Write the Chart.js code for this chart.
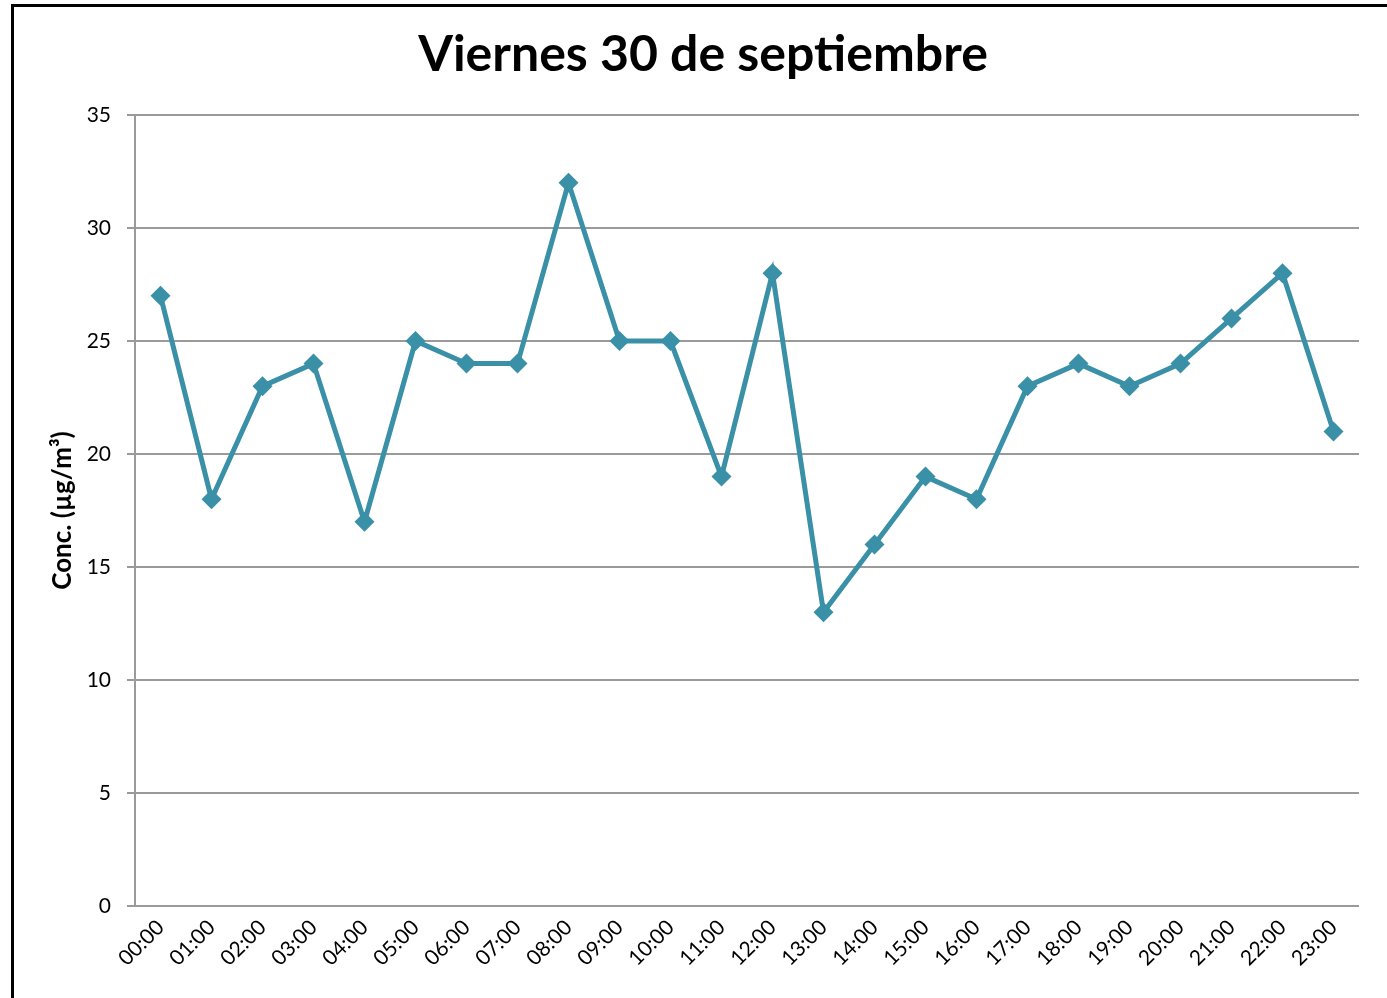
<!DOCTYPE html>
<html>
<head>
<meta charset="utf-8">
<script src="https://cdn.jsdelivr.net/npm/chart.js@4/dist/chart.umd.min.js"></script>
<style>
html,body{margin:0;padding:0;background:#fff;}
#wrap{position:relative;width:1387px;height:998px;}
canvas{display:block;}
</style>
</head>
<body>
<div id="wrap"><canvas id="c" width="1387" height="998"></canvas></div>
<script>
const categories = ["00:00","01:00","02:00","03:00","04:00","05:00","06:00","07:00","08:00","09:00","10:00","11:00","12:00","13:00","14:00","15:00","16:00","17:00","18:00","19:00","20:00","21:00","22:00","23:00"];
const concValues = [27,18,23,24,17,25,24,24,32,25,25,19,28,13,16,19,18,23,24,23,24,26,28,21];
const titleText = "Viernes 30 de septiembre";
const yTitle = "Conc. (µg/m³)";
const yMin = 0, yMax = 35, yStep = 5;

const FONT = "Lato, 'Open Sans', sans-serif";
const lineColor = "#3a90a7";

const framePlugin = {
  id: 'frame',
  afterDraw(chart) {
    const ctx = chart.ctx;
    ctx.save();
    ctx.strokeStyle = '#000';
    ctx.lineWidth = 3;
    ctx.beginPath();
    ctx.moveTo(12.5, 998);
    ctx.lineTo(12.5, 5.5);
    ctx.lineTo(1387, 5.5);
    ctx.stroke();
    ctx.restore();
  }
};

new Chart(document.getElementById('c'), {
  type: 'line',
  data: {
    labels: categories,
    datasets: [{
      data: concValues,
      borderColor: lineColor,
      backgroundColor: lineColor,
      borderWidth: 5,
      pointStyle: 'rectRot',
      pointRadius: 10,
      pointHoverRadius: 10,
      pointBorderWidth: 0,
      tension: 0,
      fill: false
    }]
  },
  options: {
    responsive: false,
    animation: false,
    devicePixelRatio: 1,
    layout: { padding: { left: 47, right: 28, top: 0, bottom: 0 } },
    plugins: {
      legend: { display: false },
      tooltip: { enabled: false },
      title: {
        display: true,
        text: titleText,
        color: '#000',
        font: { family: FONT, size: 50, weight: 'bold', lineHeight: 1.2 },
        padding: { top: 25, bottom: 30 }
      }
    },
    scales: {
      x: {
        offset: true,
        grid: { display: false, drawTicks: false },
        border: { display: false },
        ticks: {
          color: '#000',
          font: { family: FONT, size: 21 },
          minRotation: 45,
          maxRotation: 45,
          autoSkip: false,
          padding: 9
        },
        afterFit(scale) { scale.height = 92; }
      },
      y: {
        min: yMin,
        max: yMax,
        ticks: {
          stepSize: yStep,
          color: '#000',
          font: { family: FONT, size: 21 },
          padding: 16
        },
        grid: { color: '#9a9a9a', lineWidth: 2, tickLength: 8, drawTicks: true },
        border: { display: true, color: '#9a9a9a', width: 2 },
        title: {
          display: true,
          text: yTitle,
          color: '#000',
          font: { family: FONT, size: 26, weight: 'bold', lineHeight: 1.2 },
          padding: { top: 0, bottom: 0 }
        },
        afterFit(scale) { scale.width = 88; }
      }
    }
  },
  plugins: [framePlugin]
});
</script>
</body>
</html>
